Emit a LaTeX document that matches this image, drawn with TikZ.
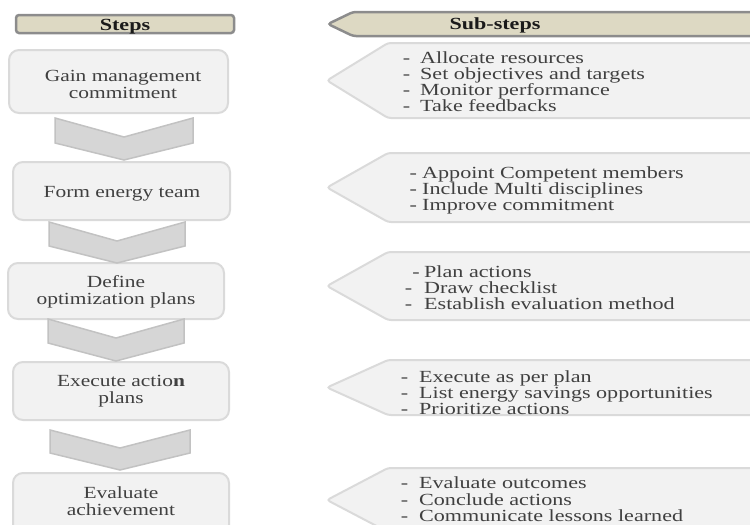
\documentclass[tikz,border=0pt]{standalone}
\usepackage{fontspec}
\usepackage{graphicx}
\setmainfont{Liberation Serif}
\definecolor{boxfill}{HTML}{F2F2F2}
\definecolor{boxline}{HTML}{DADADA}
\definecolor{chevfill}{HTML}{D6D6D6}
\definecolor{chevline}{HTML}{C2C2C2}
\definecolor{headfill}{HTML}{DDD9C3}
\definecolor{headline}{HTML}{8C8C8C}
\definecolor{txtgray}{HTML}{404040}
\definecolor{hdrtxt}{HTML}{1A1A1A}
\newcommand{\stretchA}[1]{\scalebox{1.26}[1]{#1}}
\newcommand{\stretchB}[1]{\scalebox{1.3}[1]{#1}}
\newcommand{\dashln}[2]{\stretchB{\llap{-\hspace{#1}}#2}}
\begin{document}
\begin{tikzpicture}[x=1pt,y=-1pt,
  stepbox/.style={draw=boxline, fill=boxfill, line width=2pt, rounded corners=10pt, inner sep=0pt},
  chev/.style={draw=chevline, fill=chevfill, line width=1.5pt, line join=miter},
  pent/.style={draw=boxline, fill=boxfill, line width=2pt, rounded corners=3pt},
  headbox/.style={draw=headline, fill=headfill, line width=2.5pt, rounded corners=3pt},
  steptxt/.style={font=\fontsize{17}{16}\selectfont, text=txtgray, inner sep=0pt, anchor=base},
  subtxt/.style={font=\fontsize{17}{16}\selectfont, text=txtgray, inner sep=0pt, anchor=base west},
  hdr/.style={font=\fontsize{17}{16}\selectfont\bfseries, text=hdrtxt, inner sep=0pt, anchor=base}]
\clip (0,0) rectangle (750,525);

% headers
\draw[headbox] (16,15) rectangle (234,33);
\draw[headbox] (770,12) -- (353,12) -- (328,24) -- (353,36) -- (770,36) -- cycle;
\node[hdr] (hsteps) at (125,30) {\stretchB{Steps}};
\node[hdr] (hsub) at (495,29.5) {\stretchB{Sub-steps}};

% step boxes
\node[stepbox, minimum width=219pt, minimum height=63pt] (b1) at (118.5,81.5) {};
\node[stepbox, minimum width=217pt, minimum height=58pt] (b2) at (121.5,191) {};
\node[stepbox, minimum width=216pt, minimum height=56pt] (b3) at (116,291) {};
\node[stepbox, minimum width=216pt, minimum height=58pt] (b4) at (121,391) {};
\node[stepbox, minimum width=216pt, minimum height=62pt] (b5) at (121,504) {};

% chevrons
\draw[chev] (55,118) -- (124,137) -- (193,118) -- (193,143) -- (124,160) -- (55,143) -- cycle;
\draw[chev] (49,222) -- (117,241) -- (185,222) -- (185,246) -- (117,263) -- (49,246) -- cycle;
\draw[chev] (48,319) -- (116,338) -- (184,319) -- (184,343) -- (116,361) -- (48,343) -- cycle;
\draw[chev] (50,430) -- (120,448) -- (190,430) -- (190,453) -- (120,470) -- (50,453) -- cycle;

% step texts
\node[steptxt] (t1a) at (123,81.5) {\stretchA{Gain management}};
\node[steptxt] (t1b) at (123,98) {\stretchA{commitment}};
\node[steptxt] (t2a) at (122,197) {\stretchA{Form energy team}};
\node[steptxt] (t3a) at (116,287.5) {\stretchA{Define}};
\node[steptxt] (t3b) at (116,304.5) {\stretchA{optimization plans}};
\node[steptxt] (t4a) at (121,386.5) {\stretchA{Execute actio\textbf{n}}};
\node[steptxt] (t4b) at (121,403) {\stretchA{plans}};
\node[steptxt] (t5a) at (121,498) {\stretchA{Evaluate}};
\node[steptxt] (t5b) at (121,515) {\stretchA{achievement}};

% sub-step pentagons
\draw[pent] (770,43) -- (388,43) -- (327,80.5) -- (388,118) -- (770,118) -- cycle;
\draw[pent] (770,153) -- (388,153) -- (327,187.5) -- (388,222) -- (770,222) -- cycle;
\draw[pent] (770,252) -- (388,252) -- (327,286) -- (388,320) -- (770,320) -- cycle;
\draw[pent] (770,360) -- (388,360) -- (327,387.5) -- (388,415) -- (770,415) -- cycle;
\draw[pent] (770,468) -- (388,468) -- (327,500) -- (388,532) -- (770,532) -- cycle;

% sub-step texts
\node[subtxt] (s1a) at (420,63) {\dashln{7.7pt}{Allocate resources}};
\node[subtxt] (s1b) at (420,79) {\dashln{7.7pt}{Set objectives and targets}};
\node[subtxt] (s1c) at (420,95.5) {\dashln{7.7pt}{Monitor performance}};
\node[subtxt] (s1d) at (420,111.5) {\dashln{7.7pt}{Take feedbacks}};

\node[subtxt] (s2a) at (422,178.5) {\dashln{4pt}{Appoint Competent members}};
\node[subtxt] (s2b) at (422,194.5) {\dashln{4pt}{Include Multi disciplines}};
\node[subtxt] (s2c) at (422,210.5) {\dashln{4pt}{Improve commitment}};

\node[subtxt] (s3a) at (424,277) {\dashln{3.5pt}{Plan actions}};
\node[subtxt] (s3b) at (424,293.5) {\dashln{9.3pt}{Draw checklist}};
\node[subtxt] (s3c) at (424,309.5) {\dashln{9.3pt}{Establish evaluation method}};

\node[subtxt] (s4a) at (419,382) {\dashln{8.5pt}{Execute as per plan}};
\node[subtxt] (s4b) at (419,398) {\dashln{8.5pt}{List energy savings opportunities}};
\node[subtxt] (s4c) at (419,414) {\dashln{8.5pt}{Prioritize actions}};

\node[subtxt] (s5a) at (419,488.5) {\dashln{8.5pt}{Evaluate outcomes}};
\node[subtxt] (s5b) at (419,505) {\dashln{8.5pt}{Conclude actions}};
\node[subtxt] (s5c) at (419,521.5) {\dashln{8.5pt}{Communicate lessons learned}};
\end{tikzpicture}
\end{document}
